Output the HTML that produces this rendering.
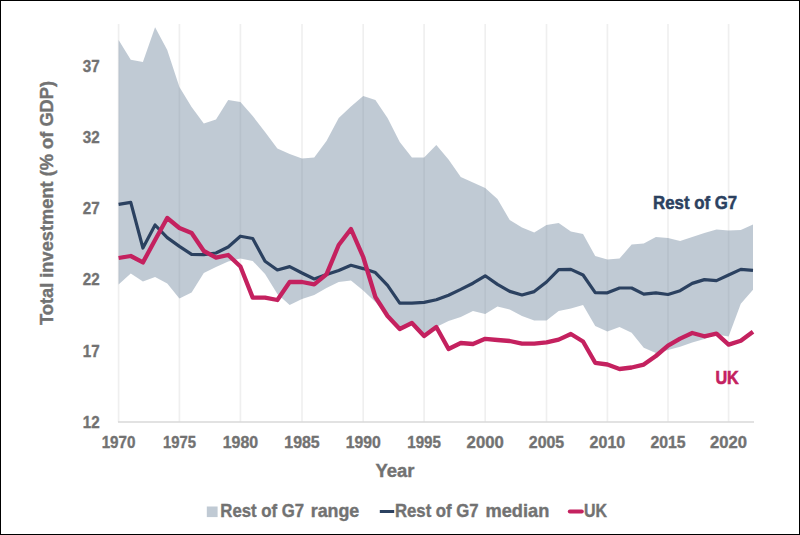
<!DOCTYPE html>
<html lang="en"><head><meta charset="utf-8"><title>Total investment (% of GDP)</title>
<style>
html,body{margin:0;padding:0;background:#fff;}
body{width:800px;height:535px;overflow:hidden;position:relative;}
svg{position:absolute;left:0;top:0;display:block;}
text{font-family:"Liberation Sans",sans-serif;font-weight:bold;}
</style></head><body>
<svg width="800" height="535" viewBox="0 0 800 535">
<rect x="0" y="0" width="800" height="535" fill="#fff"/>
<g stroke="#000" stroke-opacity="0.062" stroke-width="1.7"><line x1="118.6" y1="24" x2="118.6" y2="422"/><line x1="179.4" y1="24" x2="179.4" y2="422"/><line x1="240.4" y1="24" x2="240.4" y2="422"/><line x1="302.0" y1="24" x2="302.0" y2="422"/><line x1="363.2" y1="24" x2="363.2" y2="422"/><line x1="424.1" y1="24" x2="424.1" y2="422"/><line x1="485.2" y1="24" x2="485.2" y2="422"/><line x1="546.5" y1="24" x2="546.5" y2="422"/><line x1="607.4" y1="24" x2="607.4" y2="422"/><line x1="668.0" y1="24" x2="668.0" y2="422"/><line x1="728.6" y1="24" x2="728.6" y2="422"/></g>
<path d="M118.6,40 L130.76,59.7 L142.92,62.1 L155.08,27.2 L167.24,50 L179.4,87 L191.6,107 L203.8,123.4 L216.0,119.4 L228.2,100 L240.4,102 L252.72,116 L265.04,132 L277.36,148.6 L289.68,154 L302.0,158.4 L314.24,157.4 L326.48,141 L338.72,118 L350.96,106.6 L363.2,96 L375.38,100 L387.56,118 L399.74,142 L411.92,157.4 L424.1,157.4 L436.32,145 L448.54,159.4 L460.76,177 L472.98,182.5 L485.2,188 L497.46,199 L509.72,220 L521.98,227.4 L534.24,232.4 L546.5,225 L558.68,223 L570.86,231.4 L583.04,234 L595.22,256 L607.4,259.5 L619.52,258.6 L631.64,244.4 L643.76,243.6 L655.88,237 L668.0,238 L680.12,241 L692.24,237 L704.36,233 L716.48,229.6 L728.6,230.4 L740.8,230 L753.0,224.4 L753.0,289.7 L740.8,303.7 L728.6,336.6 L716.48,334.5 L704.36,338.9 L692.24,342.4 L680.12,346.8 L668.0,350 L655.88,353 L643.76,347.7 L631.64,332.7 L619.52,327 L607.4,331.4 L595.22,326 L583.04,305 L570.86,308.4 L558.68,311 L546.5,320.4 L534.24,320.4 L521.98,316 L509.72,309.6 L497.46,306.6 L485.2,314 L472.98,311 L460.76,317 L448.54,321 L436.32,327 L424.1,336 L411.92,323 L399.74,329 L387.56,316 L375.38,302 L363.2,290.5 L350.96,280.4 L338.72,282 L326.48,288 L314.24,295 L302.0,299 L289.68,305 L277.36,294 L265.04,274 L252.72,261 L240.4,258.5 L228.2,261.6 L216.0,267 L203.8,273 L191.6,292.4 L179.4,298.6 L167.24,283.6 L155.08,277 L142.92,281.6 L130.76,273.6 L118.6,284.4Z" fill="rgb(105,129,153)" fill-opacity="0.42"/>
<line x1="118" y1="422" x2="754" y2="422" stroke="#d9d9d9" stroke-width="1.3"/>
<path d="M118.6,204.4 L130.76,202.4 L142.92,248 L155.08,225 L167.24,237.6 L179.4,246.4 L191.6,254.4 L203.8,254.6 L216.0,253 L228.2,247 L240.4,236.2 L252.72,238.5 L265.04,261.3 L277.36,270 L289.68,266.6 L302.0,273 L314.24,279 L326.48,274.6 L338.72,270.4 L350.96,265.3 L363.2,268.6 L375.38,272.6 L387.56,285.4 L399.74,303.1 L411.92,303.1 L424.1,302.4 L436.32,299.8 L448.54,295.2 L460.76,289.4 L472.98,283.2 L485.2,275.8 L497.46,284.4 L509.72,291.4 L521.98,295 L534.24,291.6 L546.5,282 L558.68,269.6 L570.86,269.4 L583.04,275 L595.22,292.6 L607.4,292.8 L619.52,288 L631.64,288 L643.76,294.2 L655.88,292.8 L668.0,294.5 L680.12,290.7 L692.24,283.4 L704.36,279.6 L716.48,280.6 L728.6,275 L740.8,269.4 L753.0,270.4" fill="none" stroke="#2b4160" stroke-width="3.2" stroke-linejoin="round" stroke-linecap="butt"/>
<path d="M118.6,258 L130.76,256 L142.92,262.4 L155.08,240 L167.24,218 L179.4,228 L191.6,233 L203.8,251 L216.0,257.6 L228.2,255 L240.4,266.5 L252.72,297.6 L265.04,297.6 L277.36,300 L289.68,282 L302.0,282 L314.24,284.4 L326.48,274.4 L338.72,245 L350.96,229 L363.2,257 L375.38,297 L387.56,316 L399.74,329 L411.92,323 L424.1,336 L436.32,327 L448.54,349 L460.76,343 L472.98,344 L485.2,338.8 L497.46,340 L509.72,341 L521.98,343.6 L534.24,343.6 L546.5,342.4 L558.68,339.6 L570.86,334 L583.04,341.5 L595.22,362.8 L607.4,364.5 L619.52,369 L631.64,367.5 L643.76,364.6 L655.88,356 L668.0,345.6 L680.12,338.6 L692.24,333 L704.36,336.3 L716.48,333.6 L728.6,344.6 L740.8,340.8 L753.0,331.7" fill="none" stroke="#c4215f" stroke-width="4.3" stroke-linejoin="round" stroke-linecap="butt"/>
<g fill="#727272" stroke="#727272" stroke-width="0.35" font-size="15.6" text-anchor="middle"><text x="118.6" y="448" textLength="33.9" lengthAdjust="spacingAndGlyphs">1970</text><text x="179.4" y="448" textLength="33" lengthAdjust="spacingAndGlyphs">1975</text><text x="240.4" y="448" textLength="35.4" lengthAdjust="spacingAndGlyphs">1980</text><text x="302.0" y="448" textLength="35.4" lengthAdjust="spacingAndGlyphs">1985</text><text x="363.2" y="448" textLength="35.1" lengthAdjust="spacingAndGlyphs">1990</text><text x="424.1" y="448" textLength="33.6" lengthAdjust="spacingAndGlyphs">1995</text><text x="485.2" y="448" textLength="37.2" lengthAdjust="spacingAndGlyphs">2000</text><text x="546.5" y="448" textLength="35.4" lengthAdjust="spacingAndGlyphs">2005</text><text x="607.4" y="448" textLength="35.6" lengthAdjust="spacingAndGlyphs">2010</text><text x="668.0" y="448" textLength="35.2" lengthAdjust="spacingAndGlyphs">2015</text><text x="728.6" y="448" textLength="37" lengthAdjust="spacingAndGlyphs">2020</text></g>
<g fill="#727272" stroke="#727272" stroke-width="0.35" font-size="15.6" text-anchor="end"><text x="99.6" y="71.8" textLength="16.9" lengthAdjust="spacingAndGlyphs">37</text><text x="99.6" y="143.0" textLength="16.9" lengthAdjust="spacingAndGlyphs">32</text><text x="99.6" y="214.2" textLength="16.9" lengthAdjust="spacingAndGlyphs">27</text><text x="99.6" y="285.4" textLength="16.9" lengthAdjust="spacingAndGlyphs">22</text><text x="99.6" y="356.6" textLength="16.9" lengthAdjust="spacingAndGlyphs">17</text><text x="99.6" y="427.8" textLength="16.9" lengthAdjust="spacingAndGlyphs">12</text></g>
<text x="395" y="476.8" fill="#727272" stroke="#727272" stroke-width="0.38" font-size="17.6" text-anchor="middle" textLength="39" lengthAdjust="spacingAndGlyphs">Year</text>
<text transform="translate(53.3,203) rotate(-90)" fill="#727272" stroke="#727272" stroke-width="0.38" font-size="17.6" text-anchor="middle" textLength="244" lengthAdjust="spacingAndGlyphs">Total investment (% of GDP)</text>
<text x="653.1" y="208.9" fill="#2b4160" stroke="#2b4160" stroke-width="0.5" font-size="17.8" textLength="84" lengthAdjust="spacingAndGlyphs">Rest of G7</text>
<text x="715.4" y="384.4" fill="#c4215f" stroke="#c4215f" stroke-width="0.6" font-size="18.2" textLength="23.4" lengthAdjust="spacingAndGlyphs">UK</text>
<rect x="206.8" y="506.5" width="10.8" height="10.6" fill="#c0cad4"/>
<text y="517.4" fill="#727272" stroke="#727272" stroke-width="0.38" font-size="17.8"><tspan x="220.3" textLength="83.8" lengthAdjust="spacingAndGlyphs">Rest of G7</tspan><tspan x="310.7" textLength="48.6" lengthAdjust="spacingAndGlyphs">range</tspan></text>
<line x1="379.8" y1="511.5" x2="394.2" y2="511.5" stroke="#2b4160" stroke-width="3"/>
<text y="517.4" fill="#727272" stroke="#727272" stroke-width="0.38" font-size="17.8"><tspan x="394.9" textLength="83.8" lengthAdjust="spacingAndGlyphs">Rest of G7</tspan><tspan x="485.5" textLength="63.8" lengthAdjust="spacingAndGlyphs">median</tspan></text>
<line x1="569.8" y1="511.5" x2="581.8" y2="511.5" stroke="#c4215f" stroke-width="4" stroke-linecap="round"/>
<text x="584" y="517.4" fill="#727272" stroke="#727272" stroke-width="0.38" font-size="17.8" textLength="23" lengthAdjust="spacingAndGlyphs">UK</text>
<rect x="0.5" y="0.5" width="799" height="534" fill="none" stroke="#000" stroke-width="1"/>
</svg>
</body></html>
